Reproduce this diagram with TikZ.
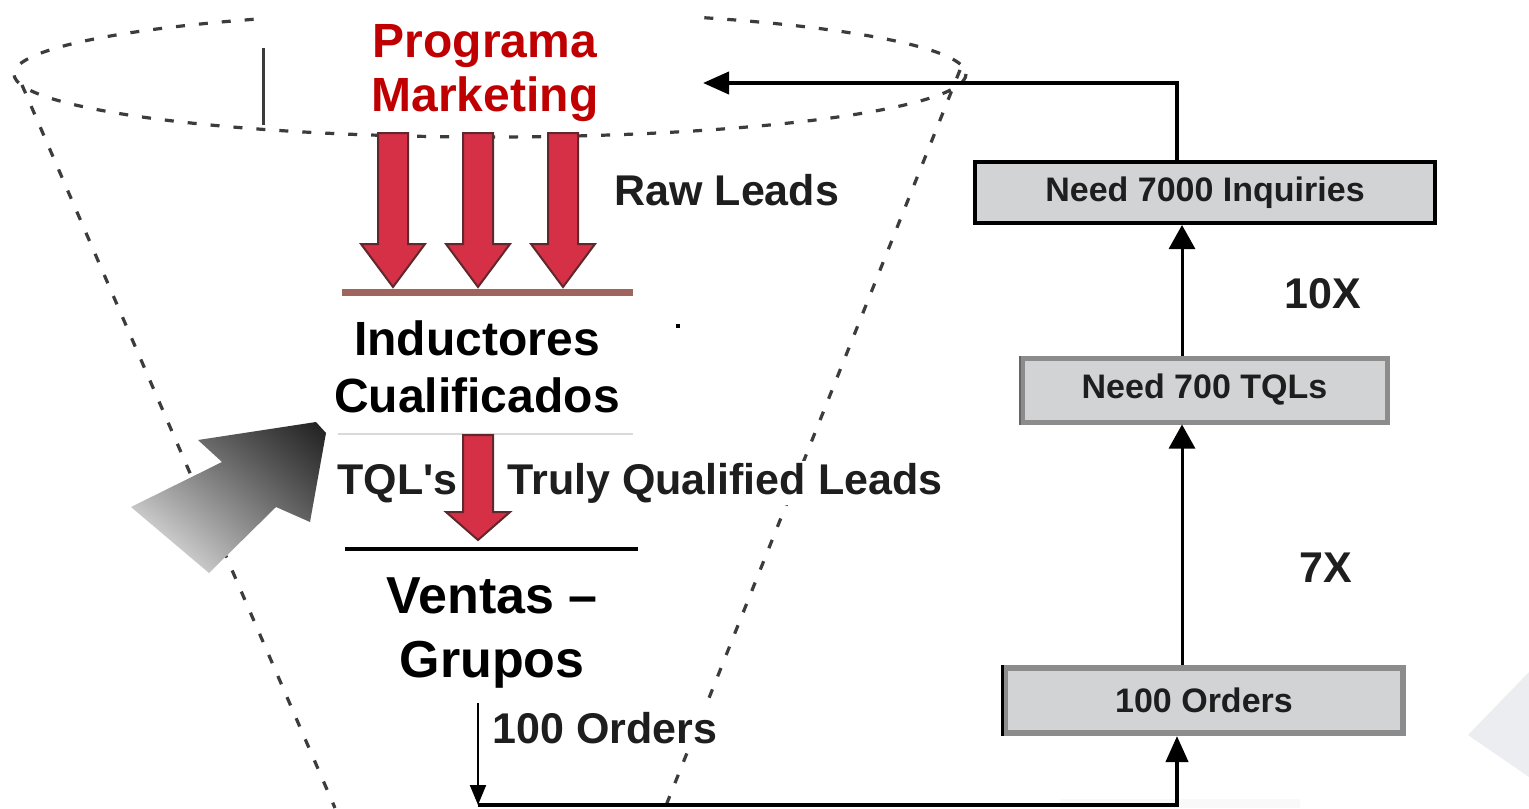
\documentclass[tikz,border=0pt]{standalone}
\usepackage{fontspec}
\setmainfont{Liberation Sans}
\usetikzlibrary{arrows.meta,shadings}
\definecolor{tred}{RGB}{192,0,0}
\definecolor{afill}{RGB}{214,48,70}
\definecolor{aedge}{RGB}{95,40,45}
\definecolor{bfill}{RGB}{210,211,213}
\definecolor{bgray}{RGB}{140,140,140}
\definecolor{brownbar}{RGB}{160,100,95}
\definecolor{dashc}{RGB}{60,60,60}
\definecolor{txt}{RGB}{30,30,30}
\definecolor{faint}{RGB}{236,237,240}
\begin{document}
\begin{tikzpicture}[x=0.5pt,y=-0.5pt,
  funnel/.style={dashc, line width=1.6pt, dash pattern=on 4.5pt off 7pt},
  redarrow/.style={fill=afill, draw=aedge, line width=1pt, line join=miter},
  titletxt/.style={font=\bfseries\fontsize{24}{28}\selectfont, text=tred, anchor=base, inner sep=0pt},
  bigtxt/.style={font=\bfseries\fontsize{24}{28}\selectfont, anchor=base, inner sep=0pt},
  lbl/.style={font=\bfseries\fontsize{21.5}{25}\selectfont, text=txt, inner sep=1pt, anchor=base west},
  boxnode/.style={fill=bfill, font=\bfseries\fontsize{17}{20}\selectfont, text=txt, inner sep=0pt},
  conn/.style={line width=1.5pt, -{Triangle[length=12pt,width=13pt]}},
  thick conn/.style={line width=2pt, -{Triangle[length=13pt,width=11pt]}}
]
\useasboundingbox (0,0) rectangle (1529,808);
\fill[white] (0,0) rectangle (1529,808);

% faint background shapes
\fill[faint] (1468,735) -- (1529,672) -- (1529,777) -- cycle;
\fill[gray!5] (1060,799) rectangle (1300,808);

% funnel
\draw[funnel] (490,74) ellipse [x radius=476, y radius=63];
\draw[funnel] (22,85) -- (335,808);
\draw[funnel] (960,70) -- (665,808);
\fill[white] (264,0) rectangle (702,121);
\draw[dashc, line width=1.5pt] (263,48) -- (263,125);

% red arrows (raw leads)
\foreach \cx in {393,478,563}{
  \draw[redarrow] (\cx-15,133) -- (\cx+15,133) -- (\cx+15,244) -- (\cx+32,244)
     -- (\cx,287) -- (\cx-32,244) -- (\cx-15,244) -- cycle;
}
\draw[brownbar, line width=3.5pt] (342,292) -- (633,292);
\draw[gray!30, line width=1pt] (338,434) -- (633,434);
% TQL arrow
\draw[redarrow] (463,435) -- (493,435) -- (493,512) -- (510,512) -- (478,540)
   -- (446,512) -- (463,512) -- cycle;
\draw[black, line width=2pt] (345,549) -- (638,549);
\fill (676,324) rectangle (680,328);

% texts
\node[titletxt] (prog) at (485,58) {Programa};
\node[titletxt] (mkt) at (485,112) {Marketing};
\node[lbl] (raw) at (612,205) {Raw Leads};
\node[bigtxt] (ind) at (477,355) {Inductores};
\node[bigtxt] (cual) at (477,412) {Cualificados};
\node[lbl] (tql) at (335,494) {TQL\textquotesingle s};
\node[lbl, fill=white] (truly) at (505,494) {Truly Qualified Leads};
\node[bigtxt, font=\bfseries\fontsize{26}{30}\selectfont] (ventas) at (492,613) {Ventas –};
\node[bigtxt, font=\bfseries\fontsize{26}{30}\selectfont] (grupos) at (492,677) {Grupos};
\node[lbl, fill=white] (ordl) at (490,743) {100 Orders};
\node[lbl] (x10) at (1282,308) {10X};
\node[lbl] (x7) at (1297,582) {7X};

% gradient arrow
\shade[upper right=black!88, lower left=white, upper left=black!50, lower right=black!55]
  (131,507) -- (222,462) -- (198,440) -- (316,422) -- (326,433) -- (310,522)
  -- (276,507) -- (209,573) -- cycle;

% boxes
\node[boxnode, draw=black, line width=2pt, minimum width=230pt, minimum height=30.5pt] (b7000) at (1205,192.5) {Need 7000 Inquiries};
\node[boxnode, draw=bgray, line width=2.5pt, minimum width=182.5pt, minimum height=32pt] (b700) at (1204.5,390) {Need 700 TQLs};
\node[boxnode, draw=bgray, line width=3pt, minimum width=199pt, minimum height=32.5pt] (b100) at (1204,700.5) {100 Orders};
\draw[black, line width=1.5pt] (b100.north west) -- (b100.south west);
\draw[black!60, line width=1pt] (b700.north west) -- (b700.south west);

% connectors
\coordinate (vx) at (1182,0);
\coordinate (fx) at (1177,0);
\coordinate (fb) at (703,83);
\coordinate (vt) at (478,703);
\coordinate (bl) at (478,805);
\draw[thick conn] (b7000.north -| fx) |- (fb);
\draw[conn] (b700.north -| vx) -- (b7000.south -| vx);
\draw[conn] (b100.north -| vx) -- (b700.south -| vx);
\draw[line width=1pt, -{Triangle[length=10pt,width=8pt]}] (vt) -- (bl);
\draw[thick conn] (bl) -| (b100.south -| fx);
\end{tikzpicture}
\end{document}
